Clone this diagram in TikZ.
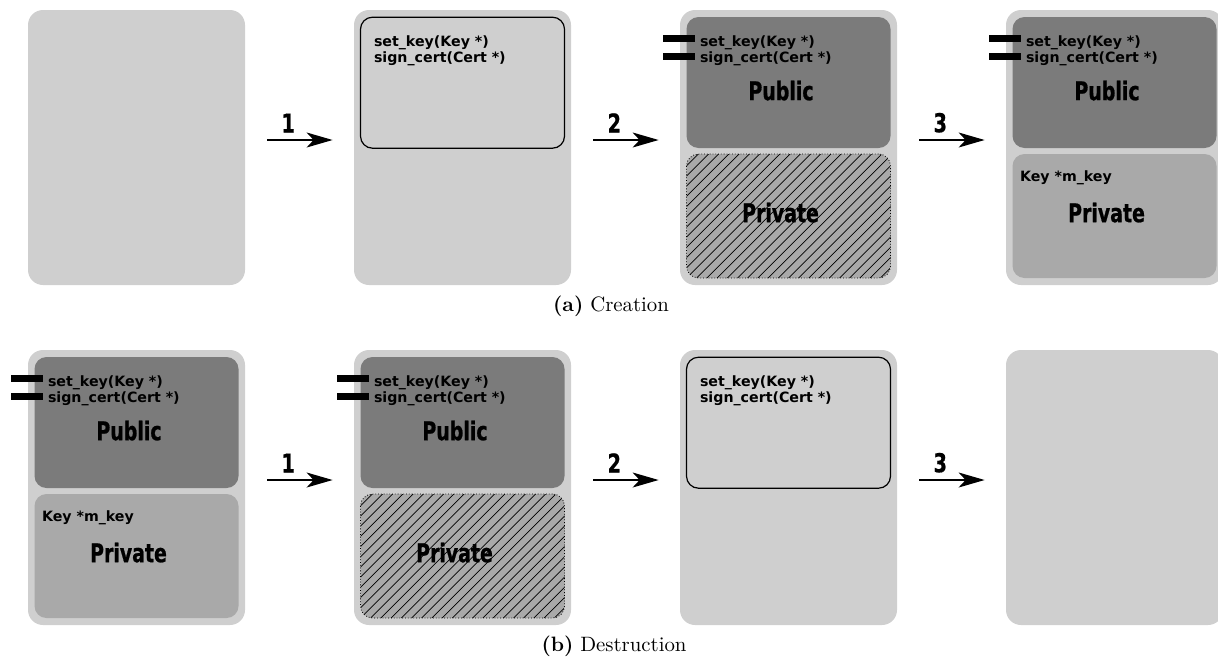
\documentclass[tikz,border=0pt]{standalone}
\usepackage{fontspec}
\usepackage{tikz}
\usetikzlibrary{arrows.meta, positioning}
\newfontfamily\codefont{DejaVu Sans}
\newfontfamily\partfont[FakeStretch=0.74, FakeBold=0.8]{DejaVu Sans}
\definecolor{shell}{HTML}{CFCFCF}
\definecolor{pubgray}{HTML}{7B7B7B}
\definecolor{privgray}{HTML}{A9A9A9}
\newcommand{\methods}{set\_key(Key *)\\sign\_cert(Cert *)}
\newcommand{\member}{Key *m\_key}
\tikzstyle{object} = [rectangle, rounded corners=7.5pt, fill=shell, minimum width=108.5pt, minimum height=137.5pt, inner sep=0]
\tikzstyle{ifaceBox} = [rectangle, rounded corners=6pt, fill=shell, draw=black, line width=0.6pt, minimum width=102pt, minimum height=65.5pt, inner sep=0]
\tikzstyle{publicPart} = [rectangle, rounded corners=6pt, fill=pubgray, minimum width=102pt, minimum height=65.5pt, inner sep=0]
\tikzstyle{privatePart} = [rectangle, rounded corners=6pt, fill=privgray, minimum width=102pt, minimum height=62pt, inner sep=0]
% hatched private part, lines clipped to the rounded box
\tikzstyle{lockedPart} = [privatePart, draw=black, densely dotted, line width=0.4pt,
    path picture={\foreach \k in {-14,...,21}
        \draw[solid, line width=0.35pt] ([xshift=\k*5.1pt]path picture bounding box.south west) -- ++(70pt,70pt);}]
\tikzstyle{port} = [rectangle, fill=black, minimum width=16pt, minimum height=3.5pt, inner sep=0]
\tikzstyle{methodText} = [font=\codefont\bfseries\fontsize{7.1}{8}\selectfont, align=left, anchor=north west, inner sep=0]
\tikzstyle{partLabel} = [font=\partfont\bfseries\fontsize{12.8}{14}\selectfont]
\tikzstyle{stepArrow} = [-{Stealth[length=13pt, width=7.5pt, inset=3.5pt]}, line width=0.75pt]
\tikzstyle{stepLabel} = [font=\partfont\bfseries\fontsize{13}{15}\selectfont]
\tikzstyle{caption} = [font=\fontsize{10.4}{13}\selectfont]

\begin{document}
\begin{tikzpicture}[x=0.5pt, y=-0.5pt]
    \useasboundingbox (0,0) rectangle (1218,659);

    % Creation: objects
    \node[object] (a1) at (136.5,147.5) {};
    \node[object] (a2) at (462.5,147.5) {};
    \node[object] (a3) at (788.5,147.5) {};
    \node[object] (a4) at (1114.5,147.5) {};

    % a2: interface only
    \node[ifaceBox, below=3.5pt of a2.north] (a2if) {};
    \node[methodText] (a2m) at ([shift={(10pt,-13pt)}]a2.north west) {\methods};

    % a3: public part, private part not yet usable
    \node[publicPart, below=3.5pt of a3.north] (a3pub) {};
    \node[lockedPart, above=3.5pt of a3.south] (a3priv) {};
    \node[port] (a3p1) at ([shift={(-0.5pt,-14.5pt)}]a3.north west) {};
    \node[port] (a3p2) at ([shift={(-0.5pt,-23.5pt)}]a3.north west) {};
    \node[methodText] (a3m) at ([shift={(10pt,-13pt)}]a3.north west) {\methods};
    \node[partLabel] (a3publ) at ([shift={(-3.75pt,-40.5pt)}]a3.north) {Public};
    \node[partLabel] (a3privl) at ([shift={(-4pt,-101.5pt)}]a3.north) {Private};

    % a4: complete object
    \node[publicPart, below=3.5pt of a4.north] (a4pub) {};
    \node[privatePart, above=3.5pt of a4.south] (a4priv) {};
    \node[port] (a4p1) at ([shift={(-0.5pt,-14.5pt)}]a4.north west) {};
    \node[port] (a4p2) at ([shift={(-0.5pt,-23.5pt)}]a4.north west) {};
    \node[methodText] (a4m) at ([shift={(10pt,-13pt)}]a4.north west) {\methods};
    \node[methodText] (a4k) at ([shift={(7pt,-80.5pt)}]a4.north west) {\member};
    \node[partLabel] (a4publ) at ([shift={(-3.75pt,-40.5pt)}]a4.north) {Public};
    \node[partLabel] (a4privl) at ([shift={(-4pt,-101.5pt)}]a4.north) {Private};

    % Creation steps
    \draw[stepArrow] ([shift={(11pt,3.75pt)}]a1.east) -- ([shift={(-10.5pt,3.75pt)}]a2.west) node[stepLabel, pos=0.32, above] {1};
    \draw[stepArrow] ([shift={(11pt,3.75pt)}]a2.east) -- ([shift={(-10.5pt,3.75pt)}]a3.west) node[stepLabel, pos=0.32, above] {2};
    \draw[stepArrow] ([shift={(11pt,3.75pt)}]a3.east) -- ([shift={(-10.5pt,3.75pt)}]a4.west) node[stepLabel, pos=0.32, above] {3};

    \node[caption] (capa) at (611,306) {\textbf{(a)} Creation};

    % Destruction: objects
    \node[object] (b1) at (136.5,487.5) {};
    \node[object] (b2) at (462.5,487.5) {};
    \node[object] (b3) at (788.5,487.5) {};
    \node[object] (b4) at (1114.5,487.5) {};

    % b1: complete object
    \node[publicPart, below=3.5pt of b1.north] (b1pub) {};
    \node[privatePart, above=3.5pt of b1.south] (b1priv) {};
    \node[port] (b1p1) at ([shift={(-0.5pt,-14.5pt)}]b1.north west) {};
    \node[port] (b1p2) at ([shift={(-0.5pt,-23.5pt)}]b1.north west) {};
    \node[methodText] (b1m) at ([shift={(10pt,-13pt)}]b1.north west) {\methods};
    \node[methodText] (b1k) at ([shift={(7pt,-80.5pt)}]b1.north west) {\member};
    \node[partLabel] (b1publ) at ([shift={(-3.75pt,-40.5pt)}]b1.north) {Public};
    \node[partLabel] (b1privl) at ([shift={(-4pt,-101.5pt)}]b1.north) {Private};

    % b2: private part released
    \node[publicPart, below=3.5pt of b2.north] (b2pub) {};
    \node[lockedPart, above=3.5pt of b2.south] (b2priv) {};
    \node[port] (b2p1) at ([shift={(-0.5pt,-14.5pt)}]b2.north west) {};
    \node[port] (b2p2) at ([shift={(-0.5pt,-23.5pt)}]b2.north west) {};
    \node[methodText] (b2m) at ([shift={(10pt,-13pt)}]b2.north west) {\methods};
    \node[partLabel] (b2publ) at ([shift={(-3.75pt,-40.5pt)}]b2.north) {Public};
    \node[partLabel] (b2privl) at ([shift={(-4pt,-101.5pt)}]b2.north) {Private};

    % b3: interface only
    \node[ifaceBox, below=3.5pt of b3.north] (b3if) {};
    \node[methodText] (b3m) at ([shift={(10pt,-13pt)}]b3.north west) {\methods};

    % Destruction steps
    \draw[stepArrow] ([shift={(11pt,3.75pt)}]b1.east) -- ([shift={(-10.5pt,3.75pt)}]b2.west) node[stepLabel, pos=0.32, above] {1};
    \draw[stepArrow] ([shift={(11pt,3.75pt)}]b2.east) -- ([shift={(-10.5pt,3.75pt)}]b3.west) node[stepLabel, pos=0.32, above] {2};
    \draw[stepArrow] ([shift={(11pt,3.75pt)}]b3.east) -- ([shift={(-10.5pt,3.75pt)}]b4.west) node[stepLabel, pos=0.32, above] {3};

    \node[caption] (capb) at (614,646) {\textbf{(b)} Destruction};
\end{tikzpicture}
\end{document}
